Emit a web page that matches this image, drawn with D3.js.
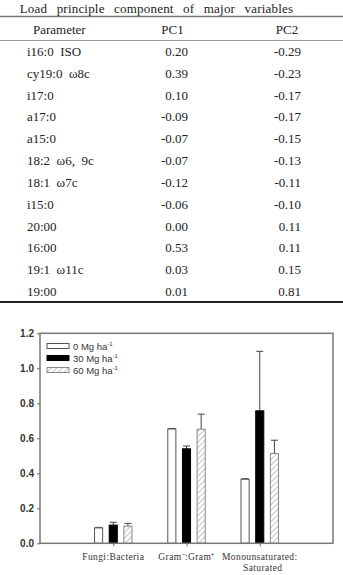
<!DOCTYPE html>
<html>
<head>
<meta charset="utf-8">
<script src="https://cdn.jsdelivr.net/npm/d3@7"></script>
<style>
  body { margin: 0; background: #fff; }
  svg { display: block; }
</style>
</head>
<body>
<div id="chart"></div>
<script>
// table data
var tableTitle = "Load principle component of major variables";
var tableHeader = ["Parameter", "PC1", "PC2"];
var parameters = ["i16:0  ISO", "cy19:0  \u03c98c", "i17:0", "a17:0", "a15:0",
    "18:2  \u03c96,  9c", "18:1  \u03c97c", "i15:0", "20:00", "16:00", "19:1  \u03c911c", "19:00"];
var pc1 = [0.20, 0.39, 0.10, -0.09, -0.07, -0.07, -0.12, -0.06, 0.00, 0.53, 0.03, 0.01];
var pc2 = [-0.29, -0.23, -0.17, -0.17, -0.15, -0.13, -0.11, -0.10, 0.11, 0.11, 0.15, 0.81];

// bar chart data
var categories = [["Fungi:Bacteria"], ["Gram\u207b:Gram\u207a"], ["Monounsaturated:", "Saturated"]];
var seriesNames = ["0", "30", "60"];
var means = {
    "0":  [0.088, 0.653, 0.366],
    "30": [0.104, 0.540, 0.757],
    "60": [0.098, 0.652, 0.513]
};
var errors = {
    "0":  [0.003, 0.003, 0.003],
    "30": [0.016, 0.016, 0.340],
    "60": [0.016, 0.086, 0.076]
};
var yTicks = [0.0, 0.2, 0.4, 0.6, 0.8, 1.0, 1.2];

var width = 343, height = 575;

var svg = d3.select("#chart").append("svg")
    .attr("width", width)
    .attr("height", height);

var defs = svg.append("defs");
var pat = defs.append("pattern")
    .attr("id", "hatch")
    .attr("patternUnits", "userSpaceOnUse")
    .attr("width", 4)
    .attr("height", 4)
    .attr("patternTransform", "rotate(45)");
pat.append("rect").attr("width", 4).attr("height", 4).attr("fill", "#fff");
pat.append("line")
    .attr("x1", 0).attr("y1", 0).attr("x2", 0).attr("y2", 4)
    .attr("stroke", "#888").attr("stroke-width", 1);

// ---------- table ----------
var serif = "'Liberation Serif', 'Times New Roman', serif";
var tbl = svg.append("g")
    .style("font-family", serif)
    .style("font-size", "13px")
    .style("fill", "#222");

tbl.append("text")
    .attr("x", 156.5)
    .attr("y", 13)
    .attr("text-anchor", "middle")
    .style("word-spacing", "6px")
    .style("letter-spacing", "0.2px")
    .text(tableTitle);

tbl.append("line").attr("x1", 0).attr("x2", width).attr("y1", 16.5).attr("y2", 16.5)
    .attr("stroke", "#777").attr("stroke-width", 1.5);
tbl.append("line").attr("x1", 0).attr("x2", width).attr("y1", 40.5).attr("y2", 40.5)
    .attr("stroke", "#999").attr("stroke-width", 1);
tbl.append("line").attr("x1", 0).attr("x2", width).attr("y1", 302).attr("y2", 302)
    .attr("stroke", "#222").attr("stroke-width", 2);

tbl.append("text").attr("x", 33).attr("y", 34).text(tableHeader[0]);
tbl.append("text").attr("x", 172.5).attr("y", 34).attr("text-anchor", "middle").text(tableHeader[1]);
tbl.append("text").attr("x", 287).attr("y", 34).attr("text-anchor", "middle").text(tableHeader[2]);

var rowY = d3.scalePoint().domain(parameters).range([56, 296]);

var rows = tbl.selectAll("g.row")
    .data(parameters)
    .enter()
    .append("g")
    .attr("class", "row");

rows.append("text")
    .attr("x", 27)
    .attr("y", d => rowY(d))
    .style("white-space", "pre")
    .text(d => d);
rows.append("text")
    .attr("x", 188)
    .attr("y", d => rowY(d))
    .attr("text-anchor", "end")
    .text((d, i) => pc1[i].toFixed(2));
rows.append("text")
    .attr("x", 301)
    .attr("y", d => rowY(d))
    .attr("text-anchor", "end")
    .text((d, i) => pc2[i].toFixed(2));

// ---------- bar chart ----------
var plotLeft = 40, plotRight = 333, plotTop = 333.3, plotBottom = 543.3;

var x = d3.scaleLinear().domain([0, categories.length + 1]).range([plotLeft, plotRight]);
var inner = d3.scaleBand().domain(seriesNames).range([-22, 22])
    .paddingInner(0.38).paddingOuter(0.19);
var y = d3.scaleLinear().domain([0, 1.2]).range([plotBottom, plotTop]);

var fills = { "0": "#fff", "30": "#000", "60": "url(#hatch)" };
var strokes = { "0": "#555", "30": "#000", "60": "#888" };

var plot = svg.append("g");

var barData = [];
seriesNames.forEach(function (s) {
    categories.forEach(function (c, i) {
        barData.push({ s: s, i: i, v: means[s][i], e: errors[s][i] });
    });
});

function cx(d) { return x(d.i + 1) + inner(d.s) + inner.bandwidth() / 2; }

// error bars (upper only)
plot.selectAll("line.err")
    .data(barData)
    .enter()
    .append("line")
    .attr("class", "err")
    .attr("x1", cx)
    .attr("x2", cx)
    .attr("y1", d => y(d.v))
    .attr("y2", d => y(d.v + d.e))
    .attr("stroke", "#444").attr("stroke-width", 1);
plot.selectAll("line.cap")
    .data(barData)
    .enter()
    .append("line")
    .attr("class", "cap")
    .attr("x1", d => cx(d) - 3.5)
    .attr("x2", d => cx(d) + 3.5)
    .attr("y1", d => y(d.v + d.e))
    .attr("y2", d => y(d.v + d.e))
    .attr("stroke", "#444").attr("stroke-width", 1);

plot.selectAll("rect.bar")
    .data(barData)
    .enter()
    .append("rect")
    .attr("class", "bar")
    .attr("x", d => x(d.i + 1) + inner(d.s) + 0.5)
    .attr("y", d => y(d.v))
    .attr("width", inner.bandwidth() - 1)
    .attr("height", d => plotBottom - y(d.v))
    .attr("fill", d => fills[d.s])
    .attr("stroke", d => strokes[d.s])
    .attr("stroke-width", 1);

// frame
plot.append("rect")
    .attr("x", plotLeft).attr("y", plotTop)
    .attr("width", plotRight - plotLeft).attr("height", plotBottom - plotTop)
    .attr("fill", "none").attr("stroke", "#777").attr("stroke-width", 1.5);

// y axis
var yAxis = d3.axisLeft(y).tickValues(yTicks).tickFormat(d3.format(".1f"))
    .tickSizeInner(3).tickSizeOuter(0).tickPadding(3);
var yg = svg.append("g")
    .attr("transform", "translate(" + plotLeft + ",0)")
    .call(yAxis);
yg.select(".domain").remove();
yg.selectAll("line").attr("stroke", "#666");
yg.selectAll("text")
    .style("font-family", "'Liberation Sans', Arial, sans-serif")
    .style("font-size", "10px")
    .style("font-weight", "bold")
    .attr("fill", "#333");

// x axis
var xAxis = d3.axisBottom(x).tickValues(categories.map((c, i) => i + 1))
    .tickSizeInner(3).tickSizeOuter(0).tickFormat("");
var xg = svg.append("g")
    .attr("transform", "translate(0," + plotBottom + ")")
    .call(xAxis);
xg.select(".domain").remove();
xg.selectAll("line").attr("stroke", "#666");

var xl = svg.append("g")
    .style("font-family", serif)
    .style("font-size", "9.5px")
    .style("fill", "#333");
categories.forEach(function (c, i) {
    c.forEach(function (line, j) {
        xl.append("text")
            .attr("x", x(i + 1) + (j > 0 ? 3 : 0))
            .attr("y", 560 + j * 11)
            .attr("text-anchor", "middle")
            .style("letter-spacing", "0.4px")
            .text(line);
    });
});

// legend
var legY = d3.scalePoint().domain(seriesNames).range([346, 370]);
var leg = svg.append("g")
    .style("font-family", "'Liberation Sans', Arial, sans-serif")
    .style("font-size", "9.5px")
    .style("fill", "#333");
leg.selectAll("rect")
    .data(seriesNames)
    .enter()
    .append("rect")
    .attr("x", 47)
    .attr("y", d => legY(d) - 2.5)
    .attr("width", 22)
    .attr("height", 5)
    .attr("fill", d => fills[d])
    .attr("stroke", d => strokes[d])
    .attr("stroke-width", 1);
var lt = leg.selectAll("text")
    .data(seriesNames)
    .enter()
    .append("text")
    .attr("x", 73)
    .attr("y", d => legY(d) + 3.5);
lt.append("tspan").text(d => d + " Mg ha");
lt.append("tspan")
    .attr("dy", -4)
    .style("font-size", "6px")
    .text("-1");
</script>
</body>
</html>
